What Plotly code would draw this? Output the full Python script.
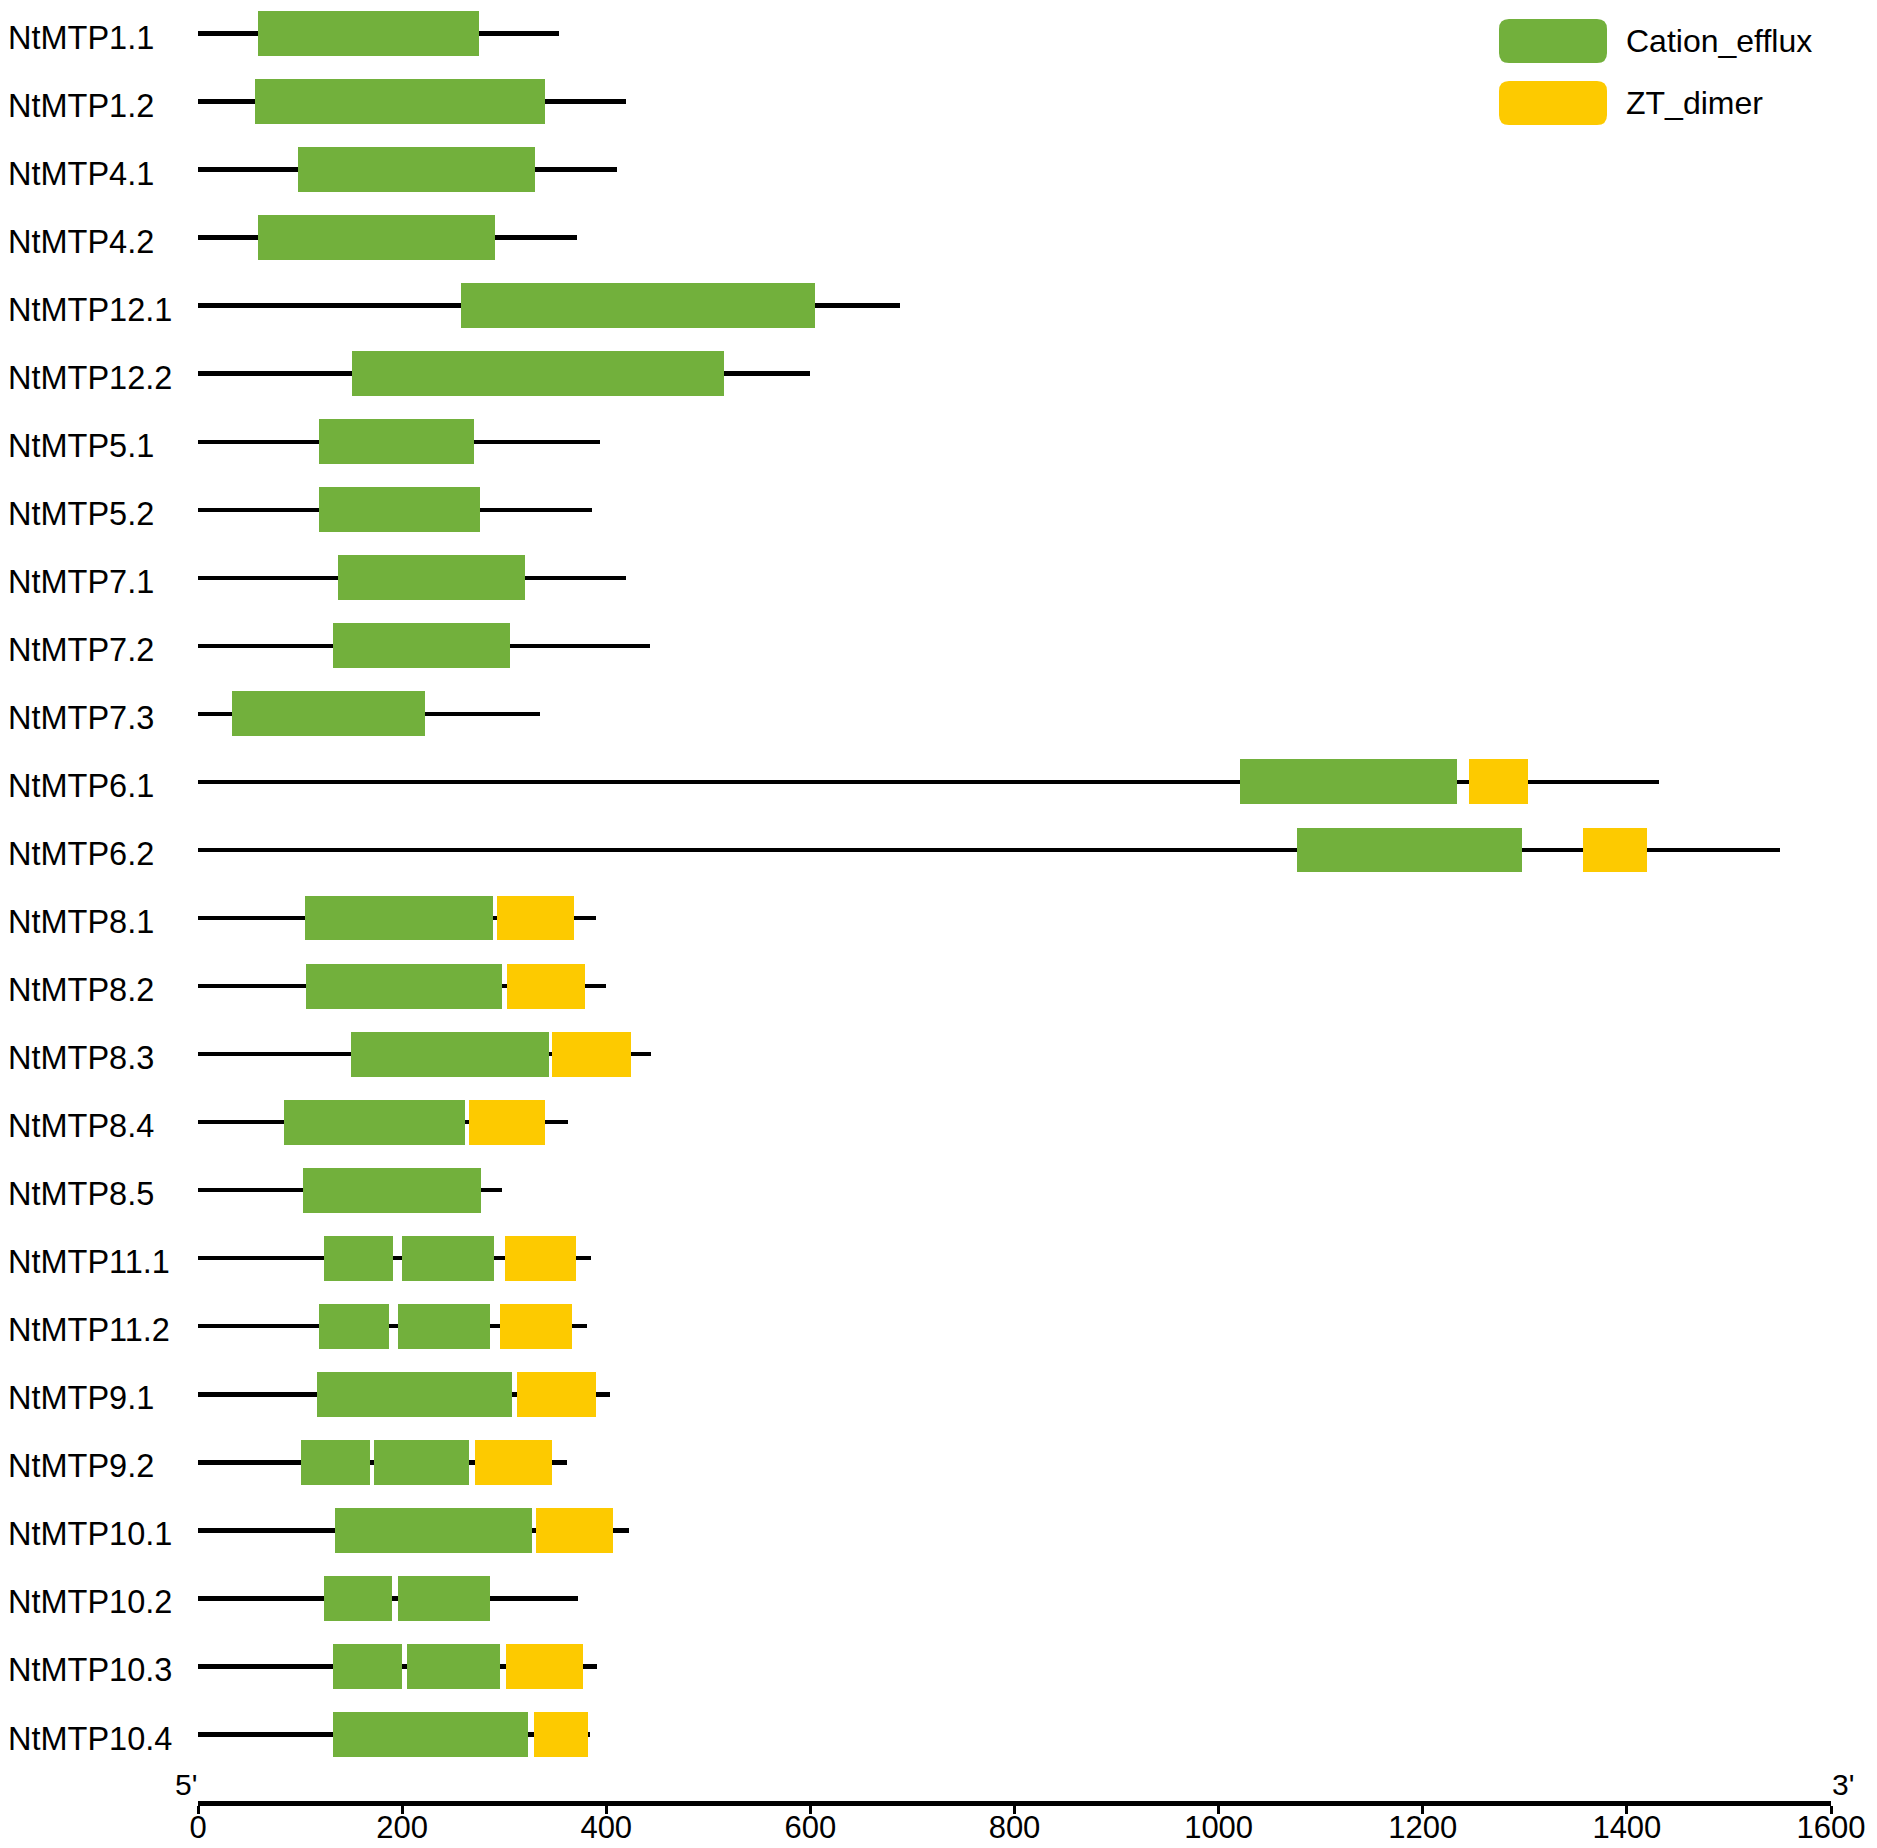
import plotly.graph_objects as go

# protein names, top to bottom
proteins = ['NtMTP1.1', 'NtMTP1.2', 'NtMTP4.1', 'NtMTP4.2', 'NtMTP12.1', 'NtMTP12.2',
            'NtMTP5.1', 'NtMTP5.2', 'NtMTP7.1', 'NtMTP7.2', 'NtMTP7.3', 'NtMTP6.1',
            'NtMTP6.2', 'NtMTP8.1', 'NtMTP8.2', 'NtMTP8.3', 'NtMTP8.4', 'NtMTP8.5',
            'NtMTP11.1', 'NtMTP11.2', 'NtMTP9.1', 'NtMTP9.2', 'NtMTP10.1', 'NtMTP10.2',
            'NtMTP10.3', 'NtMTP10.4']

# protein length (aa)
lengths = [354, 419, 411, 371, 688, 600, 394, 386, 419, 443, 335, 1431, 1550,
           390, 400, 444, 363, 298, 385, 381, 404, 362, 422, 372, 391, 384]

# Cation_efflux domains (start, end) per protein
cation_efflux = [
    [(59, 275)], [(56, 340)], [(98, 330)], [(59, 291)], [(258, 605)], [(151, 515)],
    [(119, 270)], [(119, 276)], [(137, 320)], [(132, 306)], [(33, 222)],
    [(1021, 1234)], [(1077, 1297)],
    [(105, 289)], [(106, 298)], [(150, 344)], [(84, 262)], [(103, 277)],
    [(123, 191), (200, 290)], [(119, 187), (196, 286)],
    [(117, 308)], [(101, 169), (172, 266)],
    [(134, 327)], [(123, 190), (196, 286)], [(132, 200), (205, 296)], [(132, 323)],
]

# ZT_dimer domains (start, end) per protein
zt_dimer = [
    [], [], [], [], [], [], [], [], [], [], [],
    [(1245, 1303)], [(1357, 1420)],
    [(293, 368)], [(303, 379)], [(347, 424)], [(266, 340)], [],
    [(301, 370)], [(296, 366)], [(313, 390)], [(271, 347)],
    [(331, 407)], [], [(302, 377)], [(329, 382)],
]

x_ticks = [0, 200, 400, 600, 800, 1000, 1200, 1400, 1600]

GREEN = '#72b03c'
YELLOW = '#fdca00'
FONT = 'Liberation Sans, Arial, sans-serif'

# the page body adds an 8px margin, so the figure is 8px smaller
OFF = 8
W, H = 1877 - OFF, 1848 - OFF
L, R, T, B = 198 - OFF, 46, 0, 47
PW, PH = W - L - R, H - T - B


# reference-pixel -> paper coordinates
def px(x):
    return (x - OFF - L) / PW


def py(y):
    return 1 - (y - OFF - T) / PH


def domain_bars(domains, name, color):
    ys, bases, widths = [], [], []
    for i, doms in enumerate(domains):
        for s, e in doms:
            ys.append(i)
            bases.append(s)
            widths.append(e - s)
    return go.Bar(y=ys, x=widths, base=bases, orientation='h', width=0.66,
                  marker=dict(color=color, line=dict(width=0)), name=name,
                  showlegend=False, hoverinfo='skip')


fig = go.Figure()
# backbone lines (thin bars so they sit under the domains)
fig.add_trace(go.Bar(y=list(range(len(lengths))), x=lengths, base=0, orientation='h',
                     width=0.065, marker=dict(color='black', line=dict(width=0)),
                     showlegend=False, hoverinfo='skip'))
fig.add_trace(domain_bars(cation_efflux, 'Cation_efflux', GREEN))
fig.add_trace(domain_bars(zt_dimer, 'ZT_dimer', YELLOW))

# row labels, left aligned at the page edge
for i, name in enumerate(proteins):
    fig.add_annotation(x=px(6), xref='paper', y=i, yref='y', text=name,
                       showarrow=False, xanchor='left', yanchor='middle', yshift=-4,
                       font=dict(family=FONT, size=32.5, color='black'))


# legend drawn by hand (rounded swatches)
def rounded(x0, y0, x1, y1, r=10):
    X0, X1 = px(x0), px(x1)
    Y0, Y1 = py(y0), py(y1)
    rx, ry = r / PW, r / PH
    return (f'M {X0 + rx},{Y0} L {X1 - rx},{Y0} Q {X1},{Y0} {X1},{Y0 - ry} '
            f'L {X1},{Y1 + ry} Q {X1},{Y1} {X1 - rx},{Y1} L {X0 + rx},{Y1} '
            f'Q {X0},{Y1} {X0},{Y1 + ry} L {X0},{Y0 - ry} Q {X0},{Y0} {X0 + rx},{Y0} Z')


legend_items = [('Cation_efflux', GREEN, 19, 63), ('ZT_dimer', YELLOW, 81, 125)]
for label, color, y0, y1 in legend_items:
    fig.add_shape(type='path', xref='paper', yref='paper',
                  path=rounded(1499, y0, 1607, y1), fillcolor=color, line=dict(width=0))
    fig.add_annotation(x=px(1624), xref='paper', y=py((y0 + y1) / 2), yref='paper',
                       text=label, showarrow=False, xanchor='left', yanchor='middle',
                       font=dict(family=FONT, size=32, color='black'))

# 5' and 3' ends
fig.add_annotation(x=0, xref='x', y=0, yref='paper', text="5'", showarrow=False,
                   xanchor='right', yanchor='bottom', xshift=1, yshift=-2,
                   font=dict(family=FONT, size=30, color='black'))
fig.add_annotation(x=1600, xref='x', y=0, yref='paper', text="3'", showarrow=False,
                   xanchor='left', yanchor='bottom', xshift=-1, yshift=-2,
                   font=dict(family=FONT, size=30, color='black'))

# row 0 sits at reference y=33.5, rows are 68.04 px apart, axis line at y=1801
y_top = (OFF - 33.5) / 68.04
y_bot = (1801 - 33.5) / 68.04

fig.update_layout(
    width=W, height=H,
    margin=dict(l=L, r=R, t=T, b=B),
    plot_bgcolor='white', paper_bgcolor='white',
    barmode='overlay', bargap=0,
    showlegend=False,
    xaxis=dict(range=[0, 1600], tickvals=x_ticks, ticktext=[str(v) for v in x_ticks],
               showline=True, linecolor='black', linewidth=5,
               ticks='outside', ticklen=8, tickwidth=3, tickcolor='black',
               ticklabelstandoff=-13,
               showgrid=False, zeroline=False,
               tickfont=dict(family=FONT, size=31, color='black')),
    yaxis=dict(range=[y_bot, y_top], visible=False, showgrid=False, zeroline=False),
)

fig.write_html('out.html')
